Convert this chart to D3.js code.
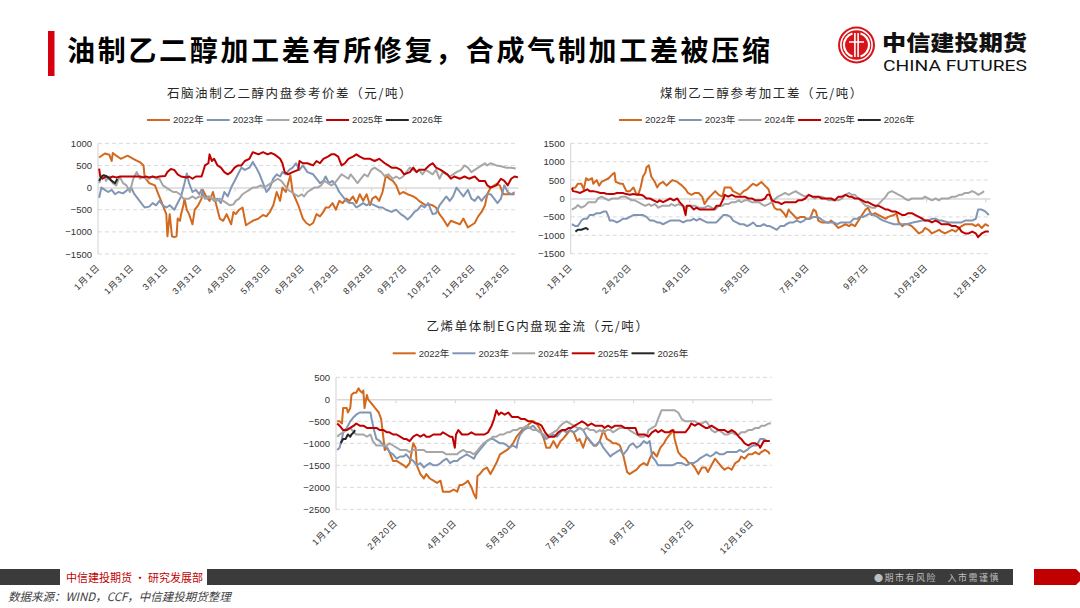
<!DOCTYPE html>
<html>
<head>
<meta charset="utf-8">
<script src="https://cdn.jsdelivr.net/npm/d3@7"></script>
<style>
  html, body { margin: 0; padding: 0; background: #fff; }
  svg { display: block; }
  text { font-family: "Liberation Sans", Arial, "Noto Sans CJK SC", sans-serif; }
  .cjk { font-family: "Noto Sans CJK SC", sans-serif; }
</style>
</head>
<body>
<div id="chart"></div>
<script>
'use strict';

const years = ['2022年', '2023年', '2024年', '2025年', '2026年'];
const yearColors = ['#D2691E', '#8096B4', '#A6A6A6', '#C00000', '#262626'];

// ---- 石脑油制乙二醇内盘参考价差 : [day of year, value]
const naphtha22 = [[1,680],[6,770],[10,740],[12,600],[13,780],[16,720],[20,650],[26,720],[31,650],[37,570],[40,500],[41,230],[45,100],[50,50],[53,-150],[57,-400],[60,-600],[61,-1100],[63,-600],[65,-1100],[67,-1120],[69,-1100],[70,-700],[72,-750],[73,-600],[75,-400],[76,-250],[78,-500],[80,-600],[83,-830],[85,-500],[88,-400],[91,-250],[92,-50],[95,-200],[98,-300],[101,-100],[104,-400],[107,-700],[110,-750],[113,-600],[117,-830],[119,-550],[121,-600],[124,-500],[127,-450],[130,-850],[133,-800],[136,-750],[141,-700],[145,-620],[148,-650],[151,-550],[154,-400],[157,-100],[160,-300],[162,0],[165,-100],[169,280],[171,-100],[176,-400],[180,-700],[183,-800],[186,-850],[189,-800],[192,-600],[195,-650],[198,-550],[200,-450],[203,-450],[206,-350],[209,-500],[212,-300],[215,-350],[218,-250],[221,-300],[224,-200],[227,-350],[230,-150],[233,-300],[236,-150],[239,-400],[241,-250],[244,-200],[247,-300],[250,-100],[253,280],[256,200],[259,150],[262,50],[265,-150],[268,-100],[272,-150],[277,-200],[280,-250],[282,-300],[285,-350],[288,-400],[291,-380],[294,-400],[297,-450],[300,-600],[303,-700],[307,-870],[310,-750],[315,-800],[318,-830],[321,-700],[325,-900],[328,-850],[331,-800],[334,-650],[337,-550],[340,-400],[342,-150],[345,0],[350,80],[353,50],[356,-150],[360,-150],[366,-150]];
const naphtha23 = [[1,-230],[3,0],[6,-50],[9,-100],[12,-50],[15,-150],[18,-100],[22,-130],[26,-50],[29,0],[32,-150],[35,-250],[38,-350],[41,-450],[45,-430],[48,-350],[51,-400],[54,-300],[57,-400],[60,-450],[63,-400],[67,-500],[70,-350],[73,-200],[76,100],[78,320],[80,100],[83,-100],[86,-50],[89,-150],[91,-50],[94,-250],[97,-200],[100,-250],[102,-300],[105,-250],[108,-350],[111,-100],[114,-200],[117,0],[120,150],[123,300],[126,450],[129,400],[133,450],[136,580],[139,450],[142,300],[145,100],[148,-100],[151,0],[154,200],[157,300],[160,250],[162,350],[165,300],[168,400],[171,450],[174,550],[177,400],[180,500],[184,350],[189,300],[192,200],[195,100],[198,150],[200,250],[203,100],[206,150],[209,50],[212,-100],[215,-200],[218,-300],[221,-350],[224,-350],[227,-450],[230,-400],[233,-350],[236,-400],[239,-350],[243,-400],[247,-450],[250,-450],[253,-500],[258,-550],[262,-500],[266,-600],[269,-650],[272,-720],[275,-650],[278,-550],[281,-500],[284,-400],[287,-450],[290,-350],[294,-600],[297,-580],[300,-400],[303,-300],[306,-200],[309,-300],[312,-200],[315,0],[318,-100],[321,-200],[325,-50],[328,-250],[331,-300],[334,-200],[337,-300],[340,-200],[342,-150],[345,-150],[348,-250],[351,-350],[354,-250],[357,50],[360,-100],[363,-150],[366,-100]];
const naphtha24 = [[1,100],[3,250],[6,250],[7,150],[10,250],[13,100],[16,50],[19,250],[22,100],[25,50],[28,-100],[31,200],[34,350],[37,200],[40,250],[42,200],[45,200],[48,250],[51,200],[54,200],[57,50],[60,0],[63,-50],[66,-100],[69,-100],[72,-150],[75,-250],[78,-250],[80,-250],[83,-200],[86,-250],[89,-200],[92,-200],[95,-250],[98,-200],[101,-250],[104,-300],[107,-250],[110,-300],[113,-350],[116,-400],[119,-380],[121,-300],[124,-250],[127,-150],[130,-100],[133,-50],[136,0],[139,0],[143,50],[146,0],[149,50],[152,100],[155,150],[158,200],[161,150],[164,50],[167,-50],[170,-100],[173,-150],[176,-200],[179,-150],[181,-200],[184,-100],[187,-50],[190,0],[193,0],[196,50],[199,150],[202,100],[205,50],[208,100],[211,200],[214,300],[217,250],[220,200],[222,300],[225,200],[228,100],[231,200],[234,300],[237,250],[240,400],[243,450],[246,400],[249,350],[252,250],[255,300],[259,200],[262,250],[265,200],[268,250],[271,350],[274,450],[277,400],[280,350],[282,400],[285,300],[288,400],[291,350],[294,300],[297,400],[300,200],[303,350],[306,300],[309,250],[312,300],[315,350],[319,400],[322,500],[325,450],[328,350],[331,400],[334,450],[337,500],[340,550],[342,500],[345,550],[350,500],[354,480],[359,450],[363,450],[367,430]];
const naphtha25 = [[1,430],[2,250],[4,200],[7,250],[10,220],[13,250],[16,230],[20,250],[25,250],[31,250],[37,250],[40,230],[42,250],[45,230],[48,250],[51,230],[54,250],[59,260],[61,350],[64,420],[67,400],[70,300],[73,250],[78,230],[80,250],[83,200],[86,250],[91,250],[94,500],[97,550],[98,750],[100,600],[102,650],[105,500],[108,450],[111,350],[114,300],[117,350],[120,450],[123,500],[126,500],[129,600],[133,650],[136,800],[141,750],[145,800],[149,750],[152,780],[155,750],[160,650],[162,550],[164,350],[167,300],[171,350],[176,400],[177,600],[180,550],[184,550],[189,500],[192,600],[195,550],[198,650],[202,700],[205,750],[208,750],[211,700],[214,500],[217,550],[220,650],[224,700],[227,750],[230,700],[234,650],[239,650],[243,600],[247,650],[252,550],[255,500],[258,450],[262,450],[266,400],[269,300],[274,350],[277,450],[280,350],[282,400],[287,400],[291,500],[294,550],[297,450],[301,400],[304,350],[307,300],[310,200],[313,250],[318,200],[322,250],[326,200],[331,250],[335,150],[340,150],[342,50],[345,0],[350,50],[354,200],[357,150],[360,50],[363,200],[366,250],[369,230]];
const naphtha26 = [[1,150],[3,250],[5,280],[8,250],[10,200],[12,150],[15,100],[17,200]];
const naphthaTickDays = [0, 30, 60, 90, 120, 150, 180, 210, 240, 270, 300, 330, 360];
const naphthaTickLabels = ['1月1日', '1月31日', '3月1日', '3月31日', '4月30日', '5月30日', '6月29日', '7月29日', '8月28日', '9月27日', '10月27日', '11月26日', '12月26日'];

// ---- 煤制乙二醇参考加工差
const coal22 = [[1,280],[4,300],[5,350],[6,400],[9,400],[11,250],[13,550],[15,500],[18,550],[19,400],[22,500],[24,350],[26,450],[29,500],[32,550],[35,650],[37,700],[38,450],[42,400],[44,400],[47,200],[50,200],[53,300],[55,150],[57,100],[59,300],[61,600],[63,700],[64,850],[66,900],[67,750],[68,600],[71,450],[73,300],[75,400],[78,450],[81,350],[84,450],[86,500],[90,450],[94,350],[97,250],[99,150],[102,100],[105,150],[108,150],[111,50],[113,-150],[116,0],[119,100],[122,200],[125,100],[128,50],[130,300],[135,300],[137,200],[140,150],[143,100],[146,200],[149,250],[152,350],[154,400],[157,350],[161,450],[164,350],[167,250],[170,-100],[172,-250],[174,-300],[177,-300],[180,-400],[182,-500],[184,-300],[185,-350],[188,-450],[191,-550],[194,-500],[197,-500],[199,-550],[202,-550],[205,-300],[207,-350],[209,-600],[212,-650],[215,-650],[218,-650],[220,-600],[223,-700],[226,-800],[229,-750],[232,-700],[235,-750],[237,-700],[240,-750],[243,-600],[246,-450],[249,-300],[251,-250],[254,-450],[257,-400],[260,-450],[263,-500],[266,-550],[268,-500],[273,-450],[275,-400],[277,-650],[280,-750],[282,-700],[285,-700],[288,-750],[291,-850],[294,-950],[297,-900],[299,-800],[302,-850],[305,-950],[308,-900],[311,-850],[313,-900],[316,-950],[319,-900],[322,-850],[325,-900],[328,-800],[330,-750],[333,-700],[336,-700],[339,-700],[342,-750],[344,-700],[347,-800],[350,-700],[353,-750]];
const coal23 = [[1,-700],[4,-750],[6,-750],[8,-650],[9,-600],[11,-550],[14,-550],[16,-450],[19,-450],[22,-400],[25,-400],[28,-350],[30,-350],[32,-500],[33,-600],[36,-600],[39,-650],[42,-600],[44,-550],[47,-550],[50,-500],[53,-450],[56,-450],[59,-450],[61,-450],[64,-500],[67,-600],[70,-600],[73,-650],[75,-650],[78,-700],[81,-650],[84,-600],[87,-600],[90,-600],[92,-600],[95,-650],[98,-600],[101,-600],[104,-550],[106,-600],[109,-550],[112,-600],[115,-650],[118,-650],[121,-650],[123,-650],[126,-550],[129,-450],[132,-450],[135,-500],[137,-600],[140,-650],[143,-700],[146,-700],[149,-750],[152,-700],[154,-650],[157,-750],[160,-750],[163,-700],[166,-750],[168,-750],[171,-800],[174,-850],[177,-750],[180,-750],[182,-700],[185,-650],[188,-650],[191,-600],[194,-650],[197,-600],[199,-550],[202,-550],[205,-500],[208,-500],[211,-550],[213,-600],[216,-650],[219,-650],[222,-650],[225,-700],[228,-650],[230,-650],[233,-650],[236,-650],[239,-550],[242,-550],[244,-500],[247,-500],[250,-450],[253,-400],[256,-450],[259,-500],[261,-550],[264,-600],[268,-650],[273,-700],[278,-700],[284,-700],[289,-650],[297,-600],[302,-600],[305,-550],[308,-550],[311,-600],[313,-600],[319,-650],[325,-650],[330,-650],[333,-600],[339,-600],[342,-550],[344,-300],[347,-300],[350,-350],[353,-450]];
const coal24 = [[1,-300],[4,-250],[6,-180],[9,-250],[12,-200],[15,-100],[18,-100],[21,-100],[23,0],[26,50],[29,0],[32,-50],[35,0],[37,0],[40,0],[43,50],[46,50],[49,0],[52,-50],[54,-50],[57,-100],[60,-150],[63,-200],[66,-150],[68,-200],[71,-150],[74,-250],[77,-200],[80,-200],[83,-200],[85,-150],[88,-200],[91,-150],[94,-200],[97,-250],[99,-200],[102,-200],[105,-200],[108,-250],[111,-250],[113,-250],[116,-200],[119,-250],[122,-300],[125,-200],[128,-200],[130,-150],[133,-150],[136,-100],[139,-100],[142,-50],[144,-100],[147,-50],[150,-50],[153,-100],[156,-100],[159,-100],[161,-150],[164,-200],[167,-150],[170,-100],[173,0],[175,50],[178,100],[181,150],[184,100],[187,150],[190,200],[192,150],[195,100],[198,50],[201,100],[204,50],[206,0],[209,50],[212,50],[215,0],[218,-50],[220,-50],[223,-50],[226,-50],[229,0],[232,100],[235,150],[237,100],[240,100],[243,0],[246,-100],[249,-200],[251,-200],[254,-250],[257,-250],[260,-150],[263,-50],[266,50],[268,150],[271,200],[274,150],[277,100],[280,50],[282,0],[285,-50],[288,0],[291,0],[294,0],[297,0],[299,50],[302,0],[305,-50],[308,0],[311,-50],[313,0],[316,0],[319,0],[322,50],[325,50],[328,100],[330,100],[333,150],[336,150],[339,200],[342,150],[344,100],[347,150],[349,200]];
const coal25 = [[1,280],[2,200],[5,180],[8,150],[11,200],[14,250],[16,200],[19,200],[22,180],[25,150],[28,150],[30,130],[33,120],[36,120],[39,150],[42,150],[44,150],[47,120],[50,100],[53,120],[56,100],[59,100],[61,80],[64,0],[67,0],[70,-50],[73,-100],[75,-50],[78,-100],[81,-50],[84,0],[87,-50],[90,0],[92,-100],[95,-200],[97,-450],[98,-200],[101,-200],[104,-300],[106,-250],[109,-300],[112,-300],[115,-300],[118,-300],[121,-300],[123,-200],[126,-200],[129,0],[130,100],[133,50],[136,100],[139,50],[142,50],[144,50],[147,50],[150,0],[153,0],[156,-50],[159,-50],[161,-50],[164,0],[166,100],[168,100],[170,-50],[173,-100],[175,-100],[178,-150],[181,-100],[184,-100],[187,-100],[190,-100],[192,-50],[195,-50],[198,0],[201,100],[204,50],[206,50],[209,50],[212,0],[215,0],[218,0],[220,0],[223,-50],[226,50],[229,50],[232,100],[235,50],[237,50],[240,0],[243,0],[246,-50],[249,-100],[251,-100],[254,-150],[257,-200],[260,-200],[263,-250],[266,-300],[268,-300],[271,-350],[274,-350],[277,-400],[280,-450],[282,-450],[285,-400],[288,-400],[291,-450],[294,-500],[297,-550],[299,-600],[302,-600],[305,-650],[308,-600],[311,-650],[313,-700],[316,-700],[319,-700],[322,-750],[325,-750],[328,-800],[330,-900],[333,-950],[336,-950],[339,-900],[342,-950],[344,-1050],[347,-950],[350,-900],[353,-900]];
const coal26 = [[4,-900],[6,-850],[9,-850],[13,-800],[15,-850]];
const coalTickDays = [0, 50, 100, 150, 200, 250, 300, 350];
const coalTickLabels = ['1月1日', '2月20日', '4月10日', '5月30日', '7月19日', '9月7日', '10月29日', '12月18日'];

// ---- 乙烯单体制EG内盘现金流
const ethylene22 = [[1,-500],[3,-500],[5,-550],[6,-200],[9,-200],[10,-300],[12,-200],[13,100],[15,150],[17,150],[19,250],[20,200],[22,150],[23,200],[24,-200],[26,100],[27,0],[30,-100],[33,-200],[36,-300],[38,-450],[40,-900],[41,-1150],[43,-1100],[45,-1200],[48,-1400],[51,-1400],[54,-1450],[57,-1500],[59,-1550],[62,-1450],[65,-1000],[67,-1100],[68,-1500],[71,-1700],[74,-1800],[76,-1700],[79,-1800],[82,-1850],[85,-1900],[88,-1850],[90,-2100],[93,-2100],[96,-2100],[99,-2050],[102,-2100],[104,-1950],[106,-1950],[109,-1900],[111,-1850],[114,-2000],[116,-2150],[118,-2250],[119,-1750],[121,-1700],[124,-1600],[127,-1550],[130,-1700],[132,-1600],[135,-1450],[138,-1250],[141,-1200],[144,-1150],[146,-1100],[149,-1000],[152,-850],[155,-750],[158,-650],[161,-600],[163,-550],[166,-500],[169,-550],[172,-700],[175,-900],[177,-1100],[180,-1100],[183,-950],[186,-1100],[189,-950],[191,-900],[194,-800],[197,-700],[200,-750],[203,-950],[205,-900],[208,-1100],[211,-850],[214,-950],[217,-1050],[219,-1050],[222,-950],[225,-700],[228,-900],[231,-950],[233,-1000],[236,-1000],[239,-1050],[242,-1300],[245,-1650],[247,-1700],[250,-1650],[253,-1600],[256,-1500],[259,-1450],[262,-1500],[264,-1350],[267,-1200],[270,-1300],[273,-1100],[276,-1000],[278,-900],[281,-800],[284,-700],[285,-900],[288,-1200],[291,-1300],[294,-1350],[297,-1450],[299,-1450],[302,-1550],[305,-1700],[308,-1550],[311,-1550],[313,-1650],[316,-1500],[319,-1350],[322,-1450],[325,-1550],[327,-1600],[330,-1550],[333,-1600],[336,-1450],[339,-1400],[341,-1300],[344,-1350],[347,-1250],[350,-1250],[353,-1200],[356,-1250],[358,-1200],[361,-1150],[364,-1200],[365,-1250]];
const ethylene23 = [[1,-1150],[3,-1100],[5,-900],[6,-750],[9,-650],[12,-500],[15,-400],[17,-350],[20,-300],[23,-300],[26,-300],[29,-300],[30,-450],[32,-700],[34,-900],[37,-950],[40,-1050],[43,-1100],[45,-1200],[48,-1250],[51,-1350],[54,-1300],[57,-1300],[59,-1250],[62,-1350],[65,-1400],[68,-1500],[71,-1450],[74,-1550],[76,-1500],[79,-1450],[82,-1500],[85,-1500],[88,-1450],[90,-1400],[93,-1350],[96,-1450],[99,-1400],[102,-1400],[104,-1350],[107,-1300],[110,-1250],[113,-1300],[116,-1350],[118,-1250],[121,-1150],[124,-1050],[127,-950],[130,-900],[132,-900],[135,-950],[138,-1000],[141,-1000],[144,-1050],[146,-1100],[149,-1050],[152,-1100],[153,-950],[155,-800],[158,-700],[161,-650],[163,-650],[166,-600],[169,-700],[172,-750],[175,-850],[177,-900],[180,-850],[183,-800],[186,-850],[189,-750],[191,-700],[194,-750],[197,-700],[200,-750],[203,-700],[205,-650],[208,-700],[211,-850],[214,-950],[217,-1050],[219,-1050],[222,-950],[225,-1100],[228,-1200],[231,-1300],[233,-1250],[236,-1200],[239,-1150],[242,-1250],[245,-1150],[247,-1050],[250,-1000],[253,-1100],[256,-1050],[259,-950],[262,-1000],[264,-950],[266,-1300],[269,-1400],[271,-1500],[274,-1500],[278,-1500],[283,-1500],[287,-1450],[291,-1450],[295,-1500],[298,-1450],[301,-1450],[304,-1400],[306,-1350],[309,-1300],[312,-1250],[315,-1300],[318,-1250],[320,-1200],[323,-1250],[326,-1250],[329,-1200],[332,-1200],[334,-1200],[337,-1200],[340,-1150],[343,-1200],[346,-1150],[348,-1100],[351,-1050],[354,-1050],[357,-900],[360,-900],[363,-950],[365,-950]];
const ethylene24 = [[1,-850],[3,-800],[6,-750],[9,-700],[12,-650],[15,-750],[17,-800],[20,-800],[23,-800],[26,-850],[29,-800],[31,-950],[34,-1050],[37,-1050],[40,-1050],[43,-1050],[45,-1000],[48,-1050],[51,-1100],[54,-1150],[57,-1150],[59,-1150],[62,-1200],[65,-1150],[68,-1150],[71,-1150],[74,-1150],[76,-1200],[79,-1200],[82,-1200],[85,-1200],[88,-1200],[90,-1200],[93,-1250],[96,-1250],[99,-1250],[102,-1250],[104,-1200],[107,-1150],[110,-1200],[113,-1200],[116,-1250],[118,-1200],[121,-1100],[124,-1000],[127,-950],[130,-900],[132,-850],[135,-850],[138,-800],[141,-800],[144,-750],[146,-750],[149,-700],[152,-700],[155,-650],[158,-650],[161,-600],[163,-650],[166,-700],[169,-700],[172,-750],[175,-800],[177,-850],[180,-800],[183,-750],[186,-700],[189,-600],[191,-550],[194,-500],[197,-550],[200,-600],[203,-650],[205,-650],[208,-700],[211,-650],[214,-700],[217,-700],[219,-750],[222,-700],[225,-750],[228,-700],[231,-700],[233,-750],[236,-700],[239,-650],[242,-650],[245,-650],[247,-700],[250,-750],[253,-800],[256,-850],[259,-850],[262,-800],[263,-700],[266,-650],[269,-600],[271,-450],[274,-250],[277,-250],[280,-250],[283,-250],[285,-250],[288,-300],[291,-450],[294,-500],[297,-500],[299,-500],[302,-500],[305,-550],[308,-550],[311,-500],[313,-550],[316,-700],[319,-750],[322,-700],[325,-750],[327,-800],[330,-800],[333,-750],[336,-800],[339,-800],[341,-750],[344,-750],[347,-700],[350,-700],[353,-650],[356,-650],[358,-600],[361,-600],[364,-550],[366,-550]];
const ethylene25 = [[1,-550],[3,-600],[6,-700],[9,-700],[12,-650],[15,-600],[17,-550],[20,-600],[23,-600],[26,-650],[29,-650],[31,-650],[34,-650],[37,-700],[40,-700],[43,-750],[45,-750],[48,-800],[51,-800],[54,-850],[57,-900],[59,-900],[62,-950],[65,-850],[68,-800],[71,-850],[74,-800],[76,-850],[79,-850],[82,-800],[85,-800],[88,-800],[90,-750],[93,-800],[96,-850],[98,-850],[100,-1100],[101,-800],[103,-700],[106,-800],[109,-800],[111,-800],[114,-750],[117,-800],[120,-800],[123,-800],[125,-800],[128,-750],[131,-600],[133,-450],[135,-250],[137,-350],[139,-300],[142,-350],[145,-300],[148,-400],[151,-400],[153,-400],[156,-450],[159,-450],[162,-500],[165,-500],[168,-550],[170,-550],[173,-600],[176,-750],[179,-850],[182,-850],[184,-850],[187,-750],[190,-700],[193,-700],[196,-650],[198,-650],[201,-600],[204,-550],[207,-500],[210,-550],[212,-600],[215,-550],[218,-600],[221,-600],[224,-600],[226,-650],[229,-600],[232,-650],[235,-600],[238,-600],[240,-600],[243,-650],[246,-650],[249,-650],[252,-650],[254,-800],[257,-800],[260,-800],[263,-850],[266,-750],[269,-700],[271,-750],[274,-700],[277,-750],[280,-750],[283,-700],[285,-750],[288,-750],[291,-750],[294,-750],[297,-650],[299,-550],[302,-600],[305,-550],[308,-600],[311,-650],[313,-650],[316,-600],[319,-650],[322,-700],[325,-700],[327,-700],[330,-750],[333,-700],[336,-750],[339,-850],[341,-900],[344,-1000],[347,-1050],[350,-1000],[353,-1000],[356,-1050],[357,-1100],[360,-950],[363,-950],[365,-950]];
const ethylene26 = [[4,-1000],[6,-900],[8,-900],[9,-850],[10,-800],[12,-850],[13,-800],[15,-750],[16,-700]];
const ethyleneTickDays = [0, 50, 100, 150, 200, 250, 300, 350];
const ethyleneTickLabels = ['1月1日', '2月20日', '4月10日', '5月30日', '7月19日', '9月7日', '10月27日', '12月16日'];

const W = 1080, H = 608;
const svg = d3.select('#chart').append('svg')
  .attr('width', W)
  .attr('height', H)
  .style('background', '#fff');

const gridColor = '#D9D9D9';

function drawPanel(cfg) {
  const g = svg.append('g');
  const x = d3.scaleLinear().domain([0, cfg.xMax]).range([cfg.left, cfg.right]);
  const y = d3.scaleLinear().domain(cfg.yDomain).range([cfg.bottom, cfg.top]);
  const yTicks = d3.range(cfg.yDomain[0], cfg.yDomain[1] + 1, 500);

  // dashed grid
  g.append('g').selectAll('line')
    .data(yTicks.filter((d) => d !== 0))
    .enter().append('line')
      .attr('x1', cfg.left).attr('x2', cfg.right)
      .attr('y1', (d) => y(d)).attr('y2', (d) => y(d))
      .attr('stroke', gridColor)
      .attr('stroke-width', 1)
      .attr('stroke-dasharray', '4,3');

  // left axis line
  g.append('line')
    .attr('x1', cfg.left).attr('x2', cfg.left)
    .attr('y1', cfg.top).attr('y2', cfg.bottom)
    .attr('stroke', gridColor).attr('stroke-width', 1.2);

  // y labels
  const yAxis = g.append('g')
    .attr('transform', `translate(${cfg.left},0)`)
    .call(d3.axisLeft(y).tickValues(yTicks).tickFormat(d3.format('d')).tickSize(0).tickPadding(6));
  yAxis.select('.domain').remove();
  yAxis.selectAll('text')
    .attr('font-size', 9.5)
    .attr('fill', '#333')
    .style('font-family', '"Liberation Sans", Arial, sans-serif');

  // category axis on the zero line
  const zeroAxis = g.append('g')
    .attr('transform', `translate(0,${y(0)})`)
    .call(d3.axisBottom(x).tickValues(cfg.tickDays.slice(1)).tickSize(4).tickSizeOuter(0).tickFormat(''));
  zeroAxis.select('.domain').attr('stroke', gridColor).attr('stroke-width', 1.5);
  zeroAxis.selectAll('.tick line').attr('stroke', gridColor).attr('stroke-width', 1.2);

  // date labels at the bottom
  const xAxis = g.append('g')
    .attr('transform', `translate(0,${cfg.bottom})`)
    .call(d3.axisBottom(x).tickValues(cfg.tickDays).tickSize(0)
      .tickFormat((d, i) => cfg.tickLabels[i]));
  xAxis.select('.domain').remove();
  xAxis.selectAll('text')
    .attr('y', 0)
    .attr('dy', 0)
    .attr('text-anchor', 'end')
    .attr('transform', 'translate(2,14) rotate(-45)')
    .attr('font-size', 9)
    .attr('letter-spacing', 1)
    .attr('fill', '#333')
    .style('font-family', '"Liberation Sans", Arial, "Noto Sans CJK SC", sans-serif');

  // series
  const line = d3.line()
    .x((d) => x(d[0]))
    .y((d) => y(d[1]));
  g.append('g').selectAll('path')
    .data(cfg.series)
    .enter().append('path')
      .attr('d', (d) => line(d))
      .attr('fill', 'none')
      .attr('stroke', (d, i) => yearColors[i])
      .attr('stroke-width', 2)
      .attr('stroke-linejoin', 'round');

  // title
  g.append('text')
    .attr('class', 'cjk')
    .attr('x', cfg.titleX).attr('y', cfg.titleY)
    .attr('text-anchor', 'middle')
    .attr('font-size', 12.5)
    .attr('letter-spacing', 1.6)
    .attr('fill', '#262626')
    .text(cfg.title);

  // legend
  const legend = g.append('g')
    .attr('transform', `translate(${cfg.legendX},${cfg.legendY})`);
  const item = legend.selectAll('g')
    .data(years)
    .enter().append('g')
      .attr('transform', (d, i) => `translate(${i * 59.7},0)`);
  item.append('line')
    .attr('x1', 0).attr('x2', 23)
    .attr('stroke', (d, i) => yearColors[i])
    .attr('stroke-width', 2);
  item.append('text')
    .attr('x', 26).attr('y', 3.3)
    .attr('font-size', 9.5)
    .attr('fill', '#333')
    .text((d) => d);
}

drawPanel({
  title: '石脑油制乙二醇内盘参考价差（元/吨）',
  titleX: 290, titleY: 97.5,
  legendX: 147, legendY: 120,
  left: 98, right: 518, top: 143.3, bottom: 254,
  xMax: 369, yDomain: [-1500, 1000],
  tickDays: naphthaTickDays, tickLabels: naphthaTickLabels,
  series: [naphtha22, naphtha23, naphtha24, naphtha25, naphtha26]
});

drawPanel({
  title: '煤制乙二醇参考加工差（元/吨）',
  titleX: 762, titleY: 97.5,
  legendX: 619, legendY: 120,
  left: 570.7, right: 990, top: 143.3, bottom: 253.7,
  xMax: 354, yDomain: [-1500, 1500],
  tickDays: coalTickDays, tickLabels: coalTickLabels,
  series: [coal22, coal23, coal24, coal25, coal26]
});

drawPanel({
  title: '乙烯单体制EG内盘现金流（元/吨）',
  titleX: 538, titleY: 331,
  legendX: 392.7, legendY: 353.3,
  left: 336, right: 771.7, top: 377.3, bottom: 509.3,
  xMax: 366.7, yDomain: [-2500, 500],
  tickDays: ethyleneTickDays, tickLabels: ethyleneTickLabels,
  series: [ethylene22, ethylene23, ethylene24, ethylene25, ethylene26]
});

// ---- header
svg.append('rect')
  .attr('x', 48).attr('y', 31).attr('width', 6.5).attr('height', 45)
  .attr('fill', '#D7000F');
svg.append('text')
  .attr('class', 'cjk')
  .attr('x', 67).attr('y', 61)
  .attr('font-size', 28)
  .attr('font-weight', 700)
  .attr('fill', '#000')
  .attr('textLength', 703)
  .attr('lengthAdjust', 'spacing')
  .text('油制乙二醇加工差有所修复，合成气制加工差被压缩');

// logo
const logo = svg.append('g').attr('transform', 'translate(856.5,45)');
logo.append('circle').attr('r', 18.5).attr('fill', '#D7141A');
logo.append('circle').attr('r', 15.6).attr('fill', 'none').attr('stroke', '#fff').attr('stroke-width', 1.6);
logo.append('path')
  .attr('d', 'M -4 -11.5 A 12 12 0 0 0 -4 11.5 M 4 -11.5 A 12 12 0 0 1 4 11.5')
  .attr('fill', 'none').attr('stroke', '#fff').attr('stroke-width', 2.2);
logo.append('path')
  .attr('d', 'M -1.6 -12 V 12 M 1.6 -12 V 12 M -7.5 -3 H 7.5')
  .attr('fill', 'none').attr('stroke', '#fff').attr('stroke-width', 1.6);
svg.append('text')
  .attr('class', 'cjk')
  .attr('x', 882).attr('y', 50)
  .attr('font-size', 21)
  .attr('font-weight', 900)
  .attr('fill', '#111')
  .attr('textLength', 145)
  .attr('lengthAdjust', 'spacingAndGlyphs')
  .text('中信建投期货');
svg.append('text')
  .attr('x', 883).attr('y', 70.5)
  .attr('font-size', 15)
  .attr('fill', '#111')
  .attr('textLength', 144)
  .attr('lengthAdjust', 'spacingAndGlyphs')
  .style('font-family', '"Roboto", "Liberation Sans", sans-serif')
  .text('CHINA FUTURES');

// ---- footer
svg.append('rect').attr('x', 0).attr('y', 569).attr('width', 60).attr('height', 16).attr('fill', '#3B3B3B');
svg.append('rect').attr('x', 207).attr('y', 569).attr('width', 806).attr('height', 16).attr('fill', '#3B3B3B');
svg.append('text')
  .attr('class', 'cjk')
  .attr('x', 66).attr('y', 581.5)
  .attr('font-size', 11)
  .attr('fill', '#C00000')
  .attr('textLength', 137)
  .attr('lengthAdjust', 'spacingAndGlyphs')
  .text('中信建投期货 • 研究发展部');
svg.append('text')
  .attr('class', 'cjk')
  .attr('x', 1000).attr('y', 580.5)
  .attr('text-anchor', 'end')
  .attr('font-size', 9)
  .attr('letter-spacing', 1.5)
  .attr('fill', '#BFBFBF')
  .text('●期市有风险　入市需谨慎');
svg.append('path')
  .attr('d', 'M 1034 569 H 1076 L 1080 573 V 581 L 1076 585 H 1034 Z')
  .attr('fill', '#C00000');
svg.append('text')
  .attr('class', 'cjk')
  .attr('x', 8).attr('y', 601)
  .attr('font-size', 11.5)
  .attr('font-style', 'italic')
  .attr('fill', '#404040')
  .text('数据来源：WIND，CCF，中信建投期货整理');
</script>
</body>
</html>
